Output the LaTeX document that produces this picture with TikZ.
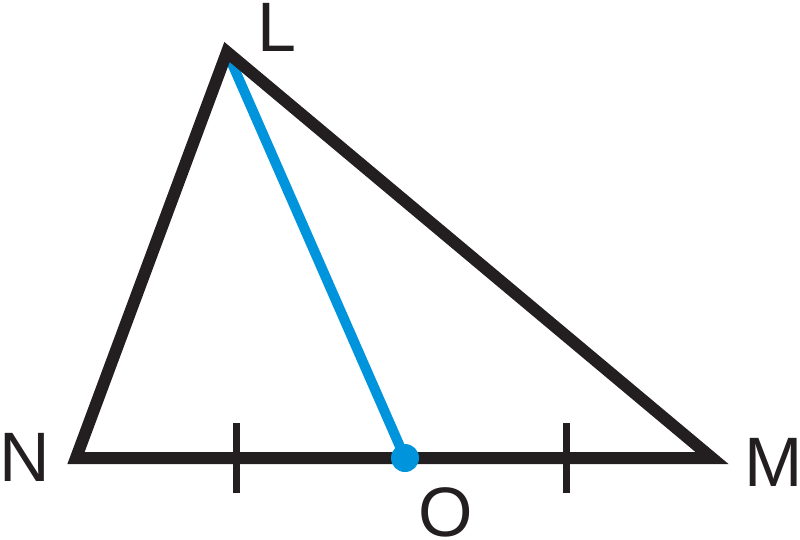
\documentclass[tikz,border=0pt]{standalone}
\usepackage{fontspec}
\setmainfont{Liberation Sans}
\usepackage{xcolor}
\tikzset{>=latex}
\definecolor{Mcol}{RGB}{35,31,32}
\definecolor{Medcol}{RGB}{0,148,221}
\tikzstyle{side}=[line width=12,Mcol,line join=miter]
\tikzstyle{median}=[line width=10,Medcol]
\tikzstyle{tick}=[line width=7,Mcol]
\tikzstyle{vertex}=[inner sep=0,text=Mcol,font=\fontsize{70}{70}\selectfont]

\begin{document}
\begin{tikzpicture}[x=1pt,y=-1pt]
  \useasboundingbox (0,0) rectangle (800,539);

  % POINTS
  \coordinate (L) at (227,52);
  \coordinate (N) at (76,458);
  \coordinate (M) at (712,458);
  \coordinate (O) at (405,458);

  % MEDIAN
  \draw[median,shorten <=7] (L) -- (O);

  % TRIANGLE
  \draw[side] (L) -- (N) -- (M) -- cycle;

  % TICKS
  \foreach \x in {236,566}{
    \draw[tick] (\x,423) coordinate (T\x) -- (\x,493);
  }
  \fill[Medcol] (O) circle (14);

  % LABELS
  \node[vertex] (lL) at (277,27) {L};
  \node[vertex] (lN) at (25,457) {N};
  \node[vertex] (lM) at (774,462) {M};
  \node[vertex] (lO) at (446,512) {O};

\end{tikzpicture}
\end{document}
